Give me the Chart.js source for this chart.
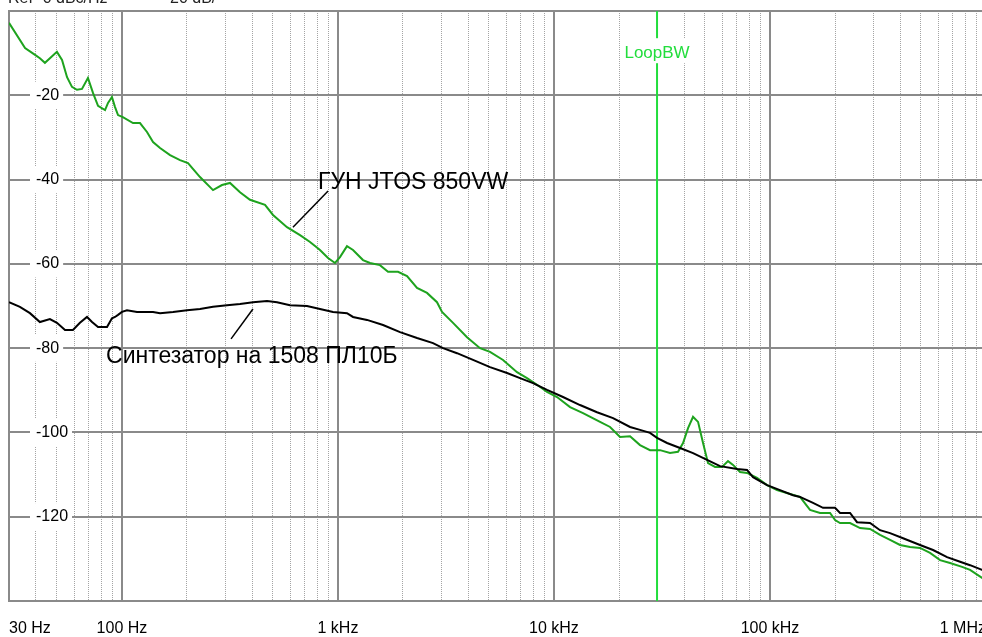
<!DOCTYPE html>
<html>
<head>
<meta charset="utf-8">
<script src="https://cdn.jsdelivr.net/npm/chart.js@4/dist/chart.umd.min.js"></script>
<style>
  html, body { margin: 0; padding: 0; background: #fff; overflow: hidden; width: 982px; height: 637px; }
  canvas { display: block; }
</style>
</head>
<body>
<canvas id="pn" width="992" height="637" style="width:992px;height:637px"></canvas>
<script>
// Phase noise, dBc/Hz versus offset frequency, Hz

// Free-running VCO (JTOS 850VW)
const vcoFreq = [
  30, 35.6, 39.6, 41.7, 44.0, 46.4, 50.0, 52.8, 55.7, 58.7,
  61.9, 65.3, 69.6, 73.5, 77.5, 83.5, 86.2, 89.9, 92.9, 95.9,
  101, 112.5, 121.2, 130.6, 139.3, 150.1, 167, 185.7, 202.2, 229.8,
  264, 290.5, 316.4, 352, 391.5, 459.5, 500.4, 580.9, 667.4, 742.5,
  825.6, 899.5, 969, 1022, 1101, 1174, 1306, 1407, 1565, 1705,
  1897, 2088, 2323, 2584, 2874, 3032, 3410, 3958, 4547, 5058,
  5810, 6745, 7502, 8346, 9286, 10330, 11870, 13630, 16340, 18180,
  20220, 22500, 25020, 27840, 30970, 34450, 37520, 39580, 41750, 44040,
  46450, 48990, 51670, 55680, 59980, 63940, 67450, 72670, 78300, 87120,
  96920, 107800, 123800, 137700, 153200, 170500, 189700, 200100, 211000, 234800,
  261200, 290500, 323200, 359600, 400000, 444900, 495000, 550800, 612800, 681700,
  774600, 843800, 958800, 1000000
];
const vcoNoise = [
  -2.8, -8.8, -10.4, -11.2, -12.3, -11.2, -9.7, -11.6, -15.7, -18.0,
  -18.7, -18.5, -15.9, -19.5, -22.5, -23.5, -21.8, -20.4, -22.8, -24.7,
  -25.2, -26.6, -26.6, -28.7, -31.1, -32.5, -34.2, -35.4, -36.1, -39.4,
  -42.5, -41.3, -40.8, -43.0, -44.8, -46.0, -48.4, -51.3, -53.2, -54.8,
  -56.7, -58.6, -59.8, -58.4, -55.8, -56.7, -59.1, -59.8, -60.3, -61.9,
  -61.9, -62.9, -65.7, -66.9, -69.1, -71.4, -74.0, -77.4, -80.0, -80.9,
  -82.8, -85.7, -87.1, -88.7, -90.4, -91.6, -94.0, -95.4, -97.5, -98.7,
  -101.1, -100.9, -103.0, -104.2, -104.2, -104.9, -104.6, -102.5, -99.0, -96.3,
  -97.5, -102.5, -107.3, -108.2, -108.2, -106.8, -107.7, -109.4, -109.6, -110.8,
  -112.5, -113.7, -114.6, -115.3, -118.4, -119.1, -119.1, -120.8, -121.5, -121.5,
  -122.7, -122.9, -124.3, -125.5, -126.7, -127.2, -127.4, -128.6, -130.3, -131.0,
  -131.9, -132.6, -134.5, -135.0
];

// PLL synthesizer (1508 ПЛ10Б)
const synthFreq = [
  30, 33.7, 37.5, 41.7, 46.4, 50.0, 54.5, 59.3, 63.9, 68.9,
  72.7, 77.5, 85.3, 89.9, 92.9, 95.9, 100, 105.5, 117.4, 139.3,
  150.1, 172.4, 200.1, 229.8, 264, 306.5, 352, 404.3, 469.4, 522.2,
  599.8, 719, 825.6, 948.7, 1101, 1174, 1363, 1617, 1938, 2323,
  2755, 3065, 3558, 4219, 5058, 6063, 6963, 7998, 9286, 11010,
  13200, 15820, 18770, 22500, 25020, 27840, 30000, 33380, 38340, 44040,
  51120, 58720, 70390, 78300, 83460, 96920, 111300, 127900, 137700, 158200,
  176000, 200100, 211000, 234800, 252900, 290500, 323200, 359600, 413000, 495000,
  568600, 660200, 758500, 843800, 958800, 1000000
];
const synthNoise = [
  -69.1, -70.2, -71.7, -73.8, -73.1, -74.0, -75.7, -75.7, -74.0, -72.6,
  -73.8, -75.0, -75.0, -72.9, -72.6, -72.1, -71.4, -71.0, -71.4, -71.4,
  -71.7, -71.4, -71.0, -70.7, -70.2, -69.8, -69.5, -69.1, -68.8, -69.1,
  -69.8, -70.0, -70.7, -71.4, -71.7, -72.6, -73.3, -74.5, -76.2, -77.6,
  -78.8, -80.0, -81.2, -82.8, -84.5, -85.9, -87.1, -88.3, -89.9, -91.6,
  -93.5, -95.2, -96.6, -98.7, -99.4, -100.1, -101.3, -102.5, -103.7, -104.9,
  -106.5, -108.0, -108.7, -108.9, -110.6, -112.5, -113.7, -114.9, -115.3, -116.7,
  -117.9, -117.9, -119.1, -119.1, -121.3, -121.5, -123.2, -123.9, -125.1, -126.7,
  -127.9, -129.6, -130.7, -131.5, -132.6, -133.1
];

// Loop bandwidth marker, Hz
const loopBandwidth = 30000;

// Axis ticks
const gridFreqs = [];
for (let d = 10; d <= 100000; d *= 10) {
  for (let m = 1; m <= 9; m++) {
    const v = m * d;
    if (v >= 30) gridFreqs.push(v);
  }
}
gridFreqs.push(1000000);
const xLabelFreqs = [30, 100, 1000, 10000, 100000, 1000000];
const xLabels = ['30 Hz', '100 Hz', '1 kHz', '10 kHz', '100 kHz', '1 MHz'];
const dbTicks = [-20, -40, -60, -80, -100, -120];

const FONT = "'Liberation Sans', Arial, sans-serif";
const GRID_MAJOR = '#8a8a8a';
const GRID_MINOR = '#a4a4a4';
const VCO_GREEN = '#1ea31e';
const LOOP_GREEN = '#22dd3c';

const isDecade = v => Math.abs(Math.log10(v) - Math.round(Math.log10(v))) < 1e-6;
const pairs = (xs, ys) => xs.map((x, i) => ({ x: x, y: ys[i] }));

// Plot frame
const framePlugin = {
  id: 'frame',
  beforeDatasetsDraw(chart) {
    const { ctx, chartArea: a } = chart;
    ctx.save();
    ctx.strokeStyle = GRID_MAJOR;
    ctx.lineWidth = 2;
    ctx.strokeRect(a.left, a.top, a.right - a.left, a.bottom - a.top);
    ctx.restore();
  }
};

// Curve captions with leader lines, loop-bandwidth label and the header line
const captions = [
  { text: 'ГУН JTOS 850VW', at: [808, -42.2], from: [619, -51.3], to: [900, -42.7] },
  { text: 'Синтезатор на 1508 ПЛ10Б', at: [84.4, -83.5], from: [320, -77.8], to: [404, -70.7] }
];
const loopLabelDb = -11.2;

const notesPlugin = {
  id: 'notes',
  afterDatasetsDraw(chart) {
    const { ctx, scales: { x, y } } = chart;
    ctx.save();

    // loop bandwidth label, with the marker line cleared behind it
    ctx.font = '17px ' + FONT;
    const lx = x.getPixelForValue(loopBandwidth);
    const ly = y.getPixelForValue(loopLabelDb);
    const w = ctx.measureText('LoopBW').width;
    ctx.fillStyle = '#fff';
    ctx.fillRect(lx - w / 2 - 2, ly - 20, w + 4, 25);
    ctx.fillStyle = LOOP_GREEN;
    ctx.textAlign = 'center';
    ctx.textBaseline = 'alphabetic';
    ctx.fillText('LoopBW', lx, ly);

    // curve captions
    ctx.strokeStyle = '#000';
    ctx.lineWidth = 1.5;
    ctx.fillStyle = '#000';
    ctx.textAlign = 'left';
    ctx.font = '23px ' + FONT;
    captions.forEach(c => {
      ctx.beginPath();
      ctx.moveTo(x.getPixelForValue(c.from[0]), y.getPixelForValue(c.from[1]));
      ctx.lineTo(x.getPixelForValue(c.to[0]), y.getPixelForValue(c.to[1]));
      ctx.stroke();
      ctx.fillText(c.text, x.getPixelForValue(c.at[0]), y.getPixelForValue(c.at[1]));
    });

    // header line above the plot (clipped by the top edge)
    ctx.font = '16px ' + FONT;
    ctx.fillStyle = '#222';
    ctx.fillText('Ref -0 dBc/Hz', 8, 3);
    ctx.fillText('20 dB/', 170, 3);
    ctx.restore();
  }
};

new Chart(document.getElementById('pn'), {
  type: 'line',
  data: {
    datasets: [
      {
        label: 'Синтезатор на 1508 ПЛ10Б',
        data: pairs(synthFreq, synthNoise),
        borderColor: '#000',
        borderWidth: 2,
        pointRadius: 0,
        order: 1
      },
      {
        label: 'ГУН JTOS 850VW',
        data: pairs(vcoFreq, vcoNoise),
        borderColor: VCO_GREEN,
        borderWidth: 2,
        pointRadius: 0,
        order: 2
      },
      {
        label: 'LoopBW',
        data: [{ x: loopBandwidth, y: 0 }, { x: loopBandwidth, y: -140 }],
        borderColor: LOOP_GREEN,
        borderWidth: 2,
        pointRadius: 0,
        order: 3
      }
    ]
  },
  options: {
    responsive: false,
    animation: false,
    devicePixelRatio: 1,
    layout: { padding: { left: 9, top: 11, right: 6, bottom: 0 } },
    elements: { line: { tension: 0 } },
    plugins: { legend: { display: false }, tooltip: { enabled: false } },
    scales: {
      x: {
        type: 'logarithmic',
        position: 'bottom',
        min: 30,
        max: 1000000,
        afterBuildTicks: s => { s.ticks = gridFreqs.map(v => ({ value: v, major: isDecade(v) })); },
        afterFit: s => { s.height = 36; s.paddingLeft = 0; s.paddingRight = 0; },
        grid: {
          z: -1,
          drawTicks: false,
          color: c => (c.tick && !isDecade(c.tick.value)) ? GRID_MINOR : GRID_MAJOR,
          lineWidth: c => (c.tick && !isDecade(c.tick.value)) ? 1 : 2
        },
        border: {
          display: false,
          dash: c => (c.tick && !isDecade(c.tick.value)) ? [1, 1] : []
        },
        ticks: {
          autoSkip: false,
          maxRotation: 0,
          minRotation: 0,
          align: 'inner',
          padding: 18,
          color: '#000',
          font: { family: FONT, size: 16 },
          callback: v => {
            const i = xLabelFreqs.indexOf(v);
            return i < 0 ? '' : xLabels[i];
          }
        }
      },
      y: {
        type: 'linear',
        position: 'left',
        min: -140,
        max: 0,
        afterBuildTicks: s => { s.ticks = dbTicks.map(v => ({ value: v })); },
        afterFit: s => { s.width = 0; s.paddingTop = 0; s.paddingBottom = 0; },
        grid: { z: -1, drawTicks: false, color: GRID_MAJOR, lineWidth: 2 },
        border: { display: false },
        ticks: {
          mirror: true,
          padding: 27,
          color: '#000',
          font: { family: FONT, size: 16 },
          showLabelBackdrop: true,
          backdropColor: '#fff',
          backdropPadding: { left: 6, right: 4, top: 4, bottom: 4 },
          callback: v => String(v)
        }
      }
    }
  },
  plugins: [framePlugin, notesPlugin]
});
</script>
</body>
</html>
